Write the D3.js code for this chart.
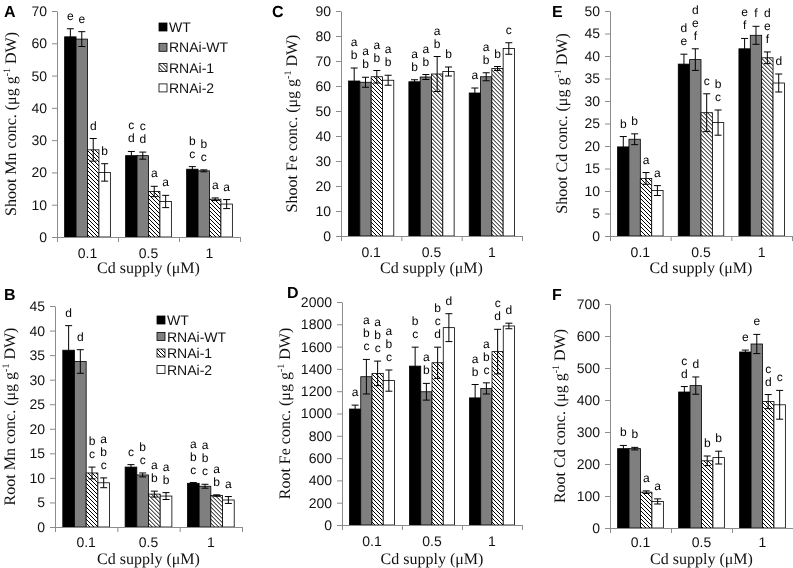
<!DOCTYPE html>
<html><head><meta charset="utf-8">
<script src="https://cdn.jsdelivr.net/npm/d3@7"></script>
<style>body{margin:0;background:#fff}svg{display:block;will-change:transform}text{text-rendering:geometricPrecision}</style>
</head><body>
<svg id="c" width="793" height="568"></svg>
<script>
// ---------- DATA ----------
const categories = ["0.1", "0.5", "1"];
const series = ["WT", "RNAi-WT", "RNAi-1", "RNAi-2"];

// per category: [WT, RNAi-WT, RNAi-1, RNAi-2]
const shootMnMean = [[62, 61.3, 27, 20], [25.2, 25.2, 14.1, 11], [21, 20.5, 11.7, 10.2]];
const shootMnErr  = [[2.5, 2.3, 3.5, 2.7], [1.3, 1.1, 1.6, 1.9], [0.8, 0.3, 0.4, 1.4]];
const shootMnLetters = [["e", "e", "d", "b"], ["c d", "c d", "a", "a"], ["b c", "b c", "a", "a"]];
const shootMnTicks = [0, 10, 20, 30, 40, 50, 60, 70];

const rootMnMean = [[36, 33.7, 11, 9], [12.2, 10.6, 6.7, 6.3], [8.9, 8.3, 6.4, 5.5]];
const rootMnErr  = [[5, 2.4, 1.2, 1], [0.5, 0.4, 0.6, 0.7], [0.15, 0.4, 0.15, 0.7]];
const rootMnLetters = [["d", "d", "b c", "a b c"], ["c", "b c", "a b", "a b"], ["a b c", "a b c", "a b", "a"]];
const rootMnTicks = [0, 5, 10, 15, 20, 25, 30, 35, 40, 45];

const shootFeMean = [[62, 61.5, 63.7, 62.3], [61.7, 63.6, 64.8, 65.8], [57.2, 63.7, 67, 75]];
const shootFeErr  = [[5.2, 2, 2.5, 2], [0.8, 1, 7, 1.8], [2, 1.6, 0.8, 2.3]];
const shootFeLetters = [["a b", "a b", "a b", "a b"], ["a b", "a b", "a b", "b"], ["a", "a b", "b", "c"]];
const shootFeTicks = [0, 10, 20, 30, 40, 50, 60, 70, 80, 90];

const rootFeMean = [[1040, 1330, 1360, 1295], [1425, 1195, 1455, 1770], [1140, 1225, 1555, 1785]];
const rootFeErr  = [[35, 155, 110, 95], [170, 75, 140, 125], [120, 50, 200, 25]];
const rootFeLetters = [["a", "a b c", "a b c", "a b c"], ["b c", "a b", "b c d", "d"], ["a b", "a b c", "c d", "d"]];
const rootFeTicks = [0, 200, 400, 600, 800, 1000, 1200, 1400, 1600, 1800, 2000];

const shootCdMean = [[19.8, 21.5, 12.8, 10.1], [38.2, 39.2, 27.4, 25.2], [41.6, 44.6, 39.6, 34]];
const shootCdErr  = [[2.3, 1.2, 1.3, 1.1], [2.2, 2.4, 4.2, 2.8], [2.3, 2, 1.3, 2]];
const shootCdLetters = [["b", "b", "a", "a"], ["d e", "d e f", "c", "b c"], ["e f", "f", "d e f", "d"]];
const shootCdTicks = [0, 5, 10, 15, 20, 25, 30, 35, 40, 45, 50];

const rootCdMean = [[248, 248, 112, 83], [425, 445, 210, 220], [550, 575, 395, 385]];
const rootCdErr  = [[10, 4, 4, 8], [17, 27, 15, 20], [6, 30, 22, 45]];
const rootCdLetters = [["b", "b", "a", "a"], ["c d", "d", "b", "b"], ["e", "e", "c d", "c"]];
const rootCdTicks = [0, 100, 200, 300, 400, 500, 600, 700];

const xAxisTitle = "Cd supply (μM)";

// ---------- LAYOUT ----------
const panels = [
  {tag: "A", title: "Shoot Mn conc.", mean: shootMnMean, err: shootMnErr, letters: shootMnLetters, ticks: shootMnTicks,
   x0: 57, x1: 240, yTop: 11, yBot: 237, tagX: 4, tagY: 17, ylabX: 16, tickY: 258, xlabY: 273,
   legend: {x: 159, y: 27, step: 20.3}},
  {tag: "B", title: "Root Mn conc.", mean: rootMnMean, err: rootMnErr, letters: rootMnLetters, ticks: rootMnTicks,
   x0: 55, x1: 242, yTop: 306, yBot: 527, tagX: 4, tagY: 300, ylabX: 15, tickY: 547, xlabY: 564,
   legend: {x: 157, y: 320, step: 16.5}},
  {tag: "C", title: "Shoot Fe conc.", mean: shootFeMean, err: shootFeErr, letters: shootFeLetters, ticks: shootFeTicks,
   x0: 341, x1: 522, yTop: 11, yBot: 236, tagX: 272, tagY: 17, ylabX: 297, tickY: 257, xlabY: 273},
  {tag: "D", title: "Root Fe conc.", mean: rootFeMean, err: rootFeErr, letters: rootFeLetters, ticks: rootFeTicks,
   x0: 342, x1: 522, yTop: 302, yBot: 525, tagX: 287, tagY: 298, ylabX: 290, tickY: 546, xlabY: 564},
  {tag: "E", title: "Shoot Cd conc.", mean: shootCdMean, err: shootCdErr, letters: shootCdLetters, ticks: shootCdTicks,
   x0: 610, x1: 792, yTop: 11, yBot: 236, tagX: 552, tagY: 17, ylabX: 567, tickY: 257, xlabY: 273},
  {tag: "F", title: "Root Cd conc.", mean: rootCdMean, err: rootCdErr, letters: rootCdLetters, ticks: rootCdTicks,
   x0: 610, x1: 793, yTop: 304, yBot: 528, tagX: 552, tagY: 300, ylabX: 565, tickY: 547, xlabY: 564}
];

const fills = {"WT": "#000000", "RNAi-WT": "#7f7f7f", "RNAi-1": "url(#hatch)", "RNAi-2": "#ffffff"};
const axisColor = "#8c8c8c";
const sans = "Arial, 'Liberation Sans', sans-serif";
const serif = "'Times New Roman', 'Liberation Serif', serif";

const svg = d3.select("#c");
const defs = svg.append("defs");
const pat = defs.append("pattern").attr("id", "hatch").attr("patternUnits", "userSpaceOnUse")
  .attr("width", 4).attr("height", 4);
pat.append("rect").attr("width", 4).attr("height", 4).attr("fill", "#fff");
pat.append("path").attr("d", "M-1,-1 L5,5 M-1,3 L1,5 M3,-1 L5,1")
  .attr("stroke", "#000").attr("stroke-width", 1);

panels.forEach(p => {
  const g = svg.append("g");
  const ymax = p.ticks[p.ticks.length - 1];
  const y = d3.scaleLinear().domain([0, ymax]).range([p.yBot, p.yTop]);
  const xCat = d3.scaleBand().domain(categories).range([p.x0, p.x1]).paddingInner(0).paddingOuter(0);
  const bw = xCat.bandwidth();
  const xSer = d3.scaleBand().domain(series).range([bw * 0.125, bw * 0.875]).padding(0);

  categories.forEach((cat, ci) => {
    const cg = g.append("g").attr("transform", `translate(${xCat(cat)},0)`);
    const rows = series.map((s, si) => ({s, v: p.mean[ci][si], e: p.err[ci][si], l: p.letters[ci][si]}));
    cg.selectAll("rect.bar").data(rows).join("rect").attr("class", "bar")
      .attr("x", d => xSer(d.s)).attr("width", xSer.bandwidth())
      .attr("y", d => y(d.v)).attr("height", d => y(0) - y(d.v))
      .attr("fill", d => fills[d.s]).attr("stroke", "#000").attr("stroke-width", 0.8);
    const eb = cg.selectAll("g.err").data(rows).join("g").attr("class", "err")
      .attr("transform", d => `translate(${xSer(d.s) + xSer.bandwidth() / 2},0)`);
    eb.append("line").attr("y1", d => y(d.v - d.e)).attr("y2", d => y(d.v + d.e))
      .attr("stroke", "#000").attr("stroke-width", 1);
    eb.append("line").attr("x1", -3.5).attr("x2", 3.5).attr("y1", d => y(d.v + d.e)).attr("y2", d => y(d.v + d.e))
      .attr("stroke", "#000").attr("stroke-width", 1);
    eb.append("line").attr("x1", -3.5).attr("x2", 3.5).attr("y1", d => y(d.v - d.e)).attr("y2", d => y(d.v - d.e))
      .attr("stroke", "#000").attr("stroke-width", 1);
    rows.forEach(d => {
      const cx = xCat(cat) + xSer(d.s) + xSer.bandwidth() / 2;
      const parts = d.l.split(" ");
      const base = y(d.v + d.e) - 9;
      parts.forEach((t, i) => {
        g.append("text").attr("x", cx).attr("y", base - 13 * (parts.length - 1 - i))
          .attr("text-anchor", "middle").attr("font-family", sans).attr("font-size", 12)
          .attr("fill", "#000").text(t);
      });
    });
  });

  const ya = g.append("g").attr("transform", `translate(${p.x0},0)`)
    .call(d3.axisLeft(y).tickValues(p.ticks).tickFormat(d3.format("d")).tickSize(5).tickSizeOuter(0).tickPadding(5));
  ya.select(".domain").attr("stroke", axisColor);
  ya.selectAll(".tick line").attr("stroke", axisColor);
  ya.selectAll(".tick text").attr("font-family", sans).attr("font-size", 14).attr("fill", "#111");

  const xb = d3.scaleLinear().domain([0, categories.length]).range([p.x0, p.x1]);
  const xa = g.append("g").attr("transform", `translate(0,${p.yBot})`)
    .call(d3.axisBottom(xb).tickValues(d3.range(categories.length + 1)).tickFormat("").tickSize(5).tickSizeOuter(0));
  xa.select(".domain").attr("stroke", axisColor);
  xa.selectAll(".tick line").attr("stroke", axisColor);
  g.selectAll("text.cat").data(categories).join("text").attr("class", "cat")
    .attr("x", d => xCat(d) + bw / 2).attr("y", p.tickY).attr("text-anchor", "middle")
    .attr("font-family", sans).attr("font-size", 14).attr("fill", "#111").text(d => d);

  g.append("text").attr("x", (p.x0 + p.x1) / 2).attr("y", p.xlabY).attr("text-anchor", "middle")
    .attr("font-family", serif).attr("font-size", 16).attr("fill", "#111").text(xAxisTitle);

  const yt = g.append("text").attr("transform", `translate(${p.ylabX},${(p.yTop + p.yBot) / 2}) rotate(-90)`)
    .attr("text-anchor", "middle").attr("font-family", serif).attr("font-size", 16).attr("fill", "#111");
  yt.append("tspan").text(p.title + " (μg g");
  yt.append("tspan").attr("dy", -6).attr("font-size", 10).text("-1");
  yt.append("tspan").attr("dy", 6).text(" DW)");

  g.append("text").attr("x", p.tagX).attr("y", p.tagY).attr("font-family", sans).attr("font-weight", "bold")
    .attr("font-size", 16).attr("fill", "#000").text(p.tag);

  if (p.legend) {
    const lg = g.append("g").attr("transform", `translate(${p.legend.x},${p.legend.y})`);
    const it = lg.selectAll("g").data(series).join("g").attr("transform", (d, i) => `translate(0,${i * p.legend.step})`);
    it.append("rect").attr("x", 0).attr("y", -4).attr("width", 8).attr("height", 8)
      .attr("fill", d => fills[d]).attr("stroke", "#000").attr("stroke-width", 0.8);
    it.append("text").attr("x", 10).attr("y", 5).attr("font-family", sans).attr("font-size", 14)
      .attr("fill", "#111").text(d => d);
  }
});
</script>
</body></html>
